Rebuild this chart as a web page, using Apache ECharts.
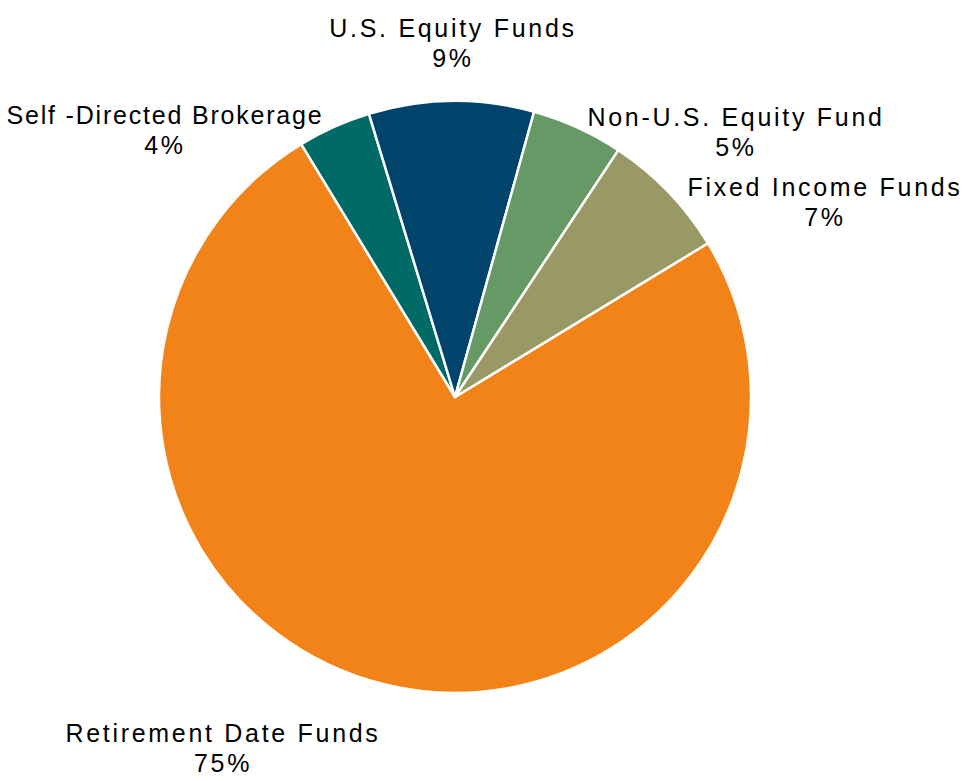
<!DOCTYPE html>
<html>
<head>
<meta charset="utf-8">
<script src="https://cdn.jsdelivr.net/npm/echarts@6/dist/echarts.min.js"></script>
<style>
  html, body { margin: 0; padding: 0; background: #fff; }
  #chart { width: 964px; height: 781px; }
  /* Excel draws its labels a bit spread out */
  #chart text { letter-spacing: 2.7px; }
</style>
</head>
<body>
<div id="chart"></div>
<script>
// slices in clockwise order, starting at the orange one
const categories = [
  "Retirement Date Funds",
  "Self -Directed Brokerage",
  "U.S. Equity Funds",
  "Non-U.S. Equity Fund",
  "Fixed Income Funds"
];
const shares = [75, 4, 9, 5, 7];
const colors = ["#F28319", "#006A66", "#00446C", "#669966", "#999966"];

// where each label block is centred (px)
const labelPos = [
  [223, 748],
  [165, 130],
  [453, 43],
  [736, 132],
  [825, 202]
];

const chart = echarts.init(document.getElementById("chart"), null, { renderer: "svg" });

// the long brokerage label is spaced tighter than the others
chart.on("finished", () => {
  document.querySelectorAll("#chart text").forEach((t) => {
    if (t.textContent.startsWith("Self")) t.style.letterSpacing = "1.8px";
  });
});

chart.setOption({
  animation: false,
  color: colors,
  series: [
    {
      type: "pie",
      center: [455, 397],
      radius: 296,
      startAngle: 31.3,
      clockwise: true,
      itemStyle: {
        borderColor: "#ffffff",
        borderWidth: 2.5
      },
      label: {
        show: true,
        position: "outside",
        formatter: (p) => `${p.name}\n${p.value}%`,
        fontFamily: "Liberation Sans",
        fontSize: 25,
        lineHeight: 30,
        color: "#000000",
        align: "center",
        overflow: "none"
      },
      labelLine: { show: false },
      labelLayout: (params) => ({
        x: labelPos[params.dataIndex][0],
        y: labelPos[params.dataIndex][1],
        align: "center",
        verticalAlign: "middle"
      }),
      emphasis: { disabled: true },
      data: categories.map((name, i) => ({ name, value: shares[i] }))
    }
  ]
});
</script>
</body>
</html>
